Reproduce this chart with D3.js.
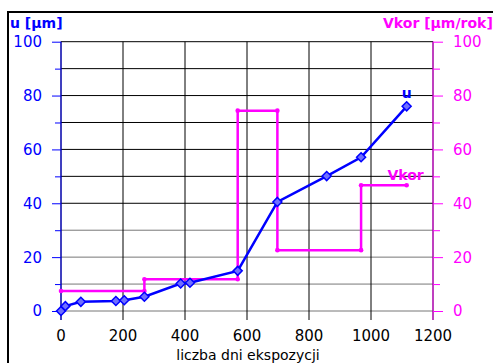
<!DOCTYPE html>
<html>
<head>
<meta charset="utf-8">
<script src="https://cdn.jsdelivr.net/npm/d3@7"></script>
<style>
  body { margin: 0; background: #fff; }
  text { font-family: "DejaVu Sans", Arial, sans-serif; }
</style>
</head>
<body>
<div id="chart"></div>
<script>
// data
var days = [0, 14, 64, 177, 204, 269, 386, 416, 570, 698, 857, 968, 1115];
var u = [0, 1.8, 3.4, 3.7, 4.0, 5.3, 10.2, 10.5, 14.9, 40.5, 50.1, 57.1, 76];

// corrosion rate steps: start, end, value
var vkorStart = [0, 269, 570, 698, 968];
var vkorEnd = [269, 570, 698, 968, 1115];
var vkorVal = [7.4, 11.8, 74.4, 22.6, 46.7];

var xTicks = [0, 200, 400, 600, 800, 1000, 1200];
var yTicks = [0, 20, 40, 60, 80, 100];

var W = 493, H = 363;
var margin = {top: 41.7, left: 61};
var width = 433 - 61, height = 311 - 41.7;

var blue = "#0000ff", magenta = "#ff00ff";

var svg = d3.select("#chart")
  .append("svg")
    .attr("width", W)
    .attr("height", H);

// outer frame
svg.append("rect")
  .attr("x", 8).attr("y", 12)
  .attr("width", W).attr("height", H)
  .attr("fill", "none")
  .attr("stroke", "#000")
  .attr("stroke-width", 2);

var g = svg.append("g")
  .attr("transform", "translate(" + margin.left + "," + margin.top + ")");

var x = d3.scaleLinear().domain([0, 1200]).range([0, width]);
var y = d3.scaleLinear().domain([0, 100]).range([height, 0]);

// grid
g.append("g")
  .selectAll("line")
  .data(d3.range(0, 101, 10))
  .enter()
  .append("line")
    .attr("x1", 0).attr("x2", width)
    .attr("y1", function(d) { return y(d); })
    .attr("y2", function(d) { return y(d); })
    .attr("stroke", function(d) { return d <= 30 ? "#777" : "#000"; })
    .attr("stroke-width", 1);

g.append("g")
  .selectAll("line")
  .data(xTicks)
  .enter()
  .append("line")
    .attr("x1", function(d) { return x(d); })
    .attr("x2", function(d) { return x(d); })
    .attr("y1", 0).attr("y2", height + 9)
    .attr("stroke", "#000")
    .attr("stroke-width", 1);

// bottom labels
g.append("g")
  .selectAll("text")
  .data(xTicks)
  .enter()
  .append("text")
    .attr("x", function(d) { return x(d); })
    .attr("y", height + 30)
    .attr("text-anchor", "middle")
    .attr("font-size", 15)
    .attr("fill", "#000")
    .text(function(d) { return d; });

// left axis (u)
var yLeft = g.append("g")
  .call(d3.axisLeft(y).tickValues(d3.range(0, 101, 10)).tickSize(6).tickFormat(""));
yLeft.select(".domain").attr("stroke", blue).attr("d", "M0," + y(100) + "V" + (height + 9));
yLeft.selectAll(".tick line")
  .attr("stroke", blue)
  .attr("x2", function(d) { return d % 20 === 0 ? -9 : -6; });
g.append("g")
  .selectAll("text")
  .data(yTicks)
  .enter()
  .append("text")
    .attr("x", -19)
    .attr("y", function(d) { return y(d) + 5.5; })
    .attr("text-anchor", "end")
    .attr("font-size", 15)
    .attr("fill", blue)
    .text(function(d) { return d; });

// right axis (Vkor)
var yRight = g.append("g")
  .attr("transform", "translate(" + width + ",0)")
  .call(d3.axisRight(y).tickValues(d3.range(0, 101, 10)).tickSize(6).tickFormat(""));
yRight.select(".domain").attr("stroke", magenta).attr("d", "M0," + y(100) + "V" + (height + 9));
yRight.selectAll(".tick line")
  .attr("stroke", magenta)
  .attr("x2", function(d) { return d % 20 === 0 ? 10 : 7; });
g.append("g")
  .selectAll("text")
  .data(yTicks)
  .enter()
  .append("text")
    .attr("x", width + 20)
    .attr("y", function(d) { return y(d) + 5.5; })
    .attr("text-anchor", "start")
    .attr("font-size", 15)
    .attr("fill", magenta)
    .text(function(d) { return d; });

// Vkor step line
var steps = [];
vkorVal.forEach(function(v, i) {
  steps.push([vkorStart[i], v]);
  steps.push([vkorEnd[i], v]);
});
var line = d3.line()
  .x(function(d) { return x(d[0]); })
  .y(function(d) { return y(d[1]); });

g.append("path")
  .datum(steps)
  .attr("d", line)
  .attr("fill", "none")
  .attr("stroke", magenta)
  .attr("stroke-width", 2.5);

g.append("g")
  .selectAll("circle")
  .data(steps)
  .enter()
  .append("circle")
    .attr("cx", function(d) { return x(d[0]); })
    .attr("cy", function(d) { return y(d[1]); })
    .attr("r", 2.3)
    .attr("fill", magenta);

// u line
var uPts = days.map(function(d, i) { return [d, u[i]]; });
g.append("path")
  .datum(uPts)
  .attr("d", line)
  .attr("fill", "none")
  .attr("stroke", blue)
  .attr("stroke-width", 2.5);

g.append("g")
  .selectAll("path")
  .data(uPts)
  .enter()
  .append("path")
    .attr("transform", function(d) { return "translate(" + x(d[0]) + "," + y(d[1]) + ")"; })
    .attr("d", "M0,-4.5L4.5,0L0,4.5L-4.5,0Z")
    .attr("fill", "#6f6fff")
    .attr("stroke", blue)
    .attr("stroke-width", 1.5);

// series labels
g.append("text")
  .attr("x", x(1115))
  .attr("y", y(76) - 8)
  .attr("text-anchor", "middle")
  .attr("font-size", 14)
  .attr("font-weight", "bold")
  .attr("fill", blue)
  .text("u");

g.append("text")
  .attr("x", x(1170))
  .attr("y", y(48.5))
  .attr("text-anchor", "end")
  .attr("font-size", 14)
  .attr("font-weight", "bold")
  .attr("fill", magenta)
  .text("Vkor");

// axis titles
svg.append("text")
  .attr("x", 10)
  .attr("y", 28)
  .attr("font-size", 14)
  .attr("font-weight", "bold")
  .attr("fill", blue)
  .text("u [µm]");

svg.append("text")
  .attr("x", 383)
  .attr("y", 28)
  .attr("font-size", 14)
  .attr("font-weight", "bold")
  .attr("fill", magenta)
  .text("Vkor [µm/rok]");

svg.append("text")
  .attr("x", 248)
  .attr("y", 359.5)
  .attr("text-anchor", "middle")
  .attr("font-size", 14)
  .attr("fill", "#000")
  .text("liczba dni ekspozycji");
</script>
</body>
</html>
